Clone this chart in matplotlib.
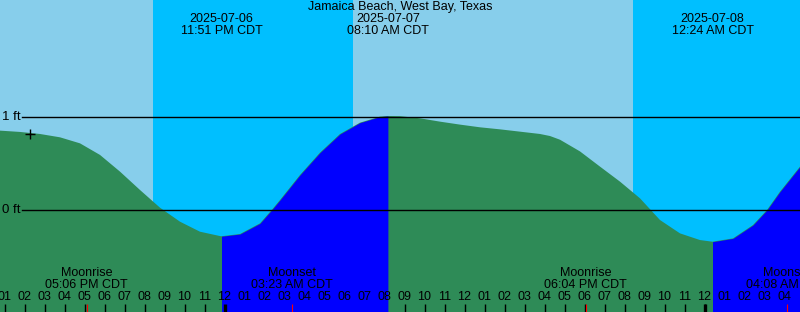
import numpy as np
import matplotlib
matplotlib.use("Agg")
from matplotlib import pyplot as plt

plt.rcParams['font.family'] = ['Liberation Sans', 'DejaVu Sans']

# hours relative to 2025-07-07 00:00 CDT, tide height in ft
tide_hours = [-11.225, -10.225, -9.225, -8.225, -7.225, -6.225, -5.225, -4.225, -3.225,
              -2.225, -1.225, -0.225, -0.15, 0.775, 1.775, 2.36, 2.775, 3.775, 4.775,
              5.775, 6.775, 7.775, 8.17, 8.775, 9.775, 10.775, 11.775, 12.775, 13.775,
              14.775, 15.775, 16.275, 16.775, 17.775, 18.775, 19.775, 20.775, 21.775, 22.775,
              23.775, 24.4, 25.425, 26.425, 27.125, 27.775, 28.775]
tide_feet = [0.856, 0.842, 0.82, 0.784, 0.719, 0.594, 0.414, 0.216, 0.025,
             -0.126, -0.234, -0.281, -0.283, -0.259, -0.144, 0.0, 0.108, 0.378, 0.619,
             0.82, 0.942, 1.007, 1.014, 1.012, 0.989, 0.953, 0.921, 0.892, 0.87,
             0.845, 0.82, 0.798, 0.758, 0.632, 0.468, 0.306, 0.126, -0.108, -0.252,
             -0.324, -0.342, -0.306, -0.162, 0.0, 0.198, 0.468]

# tide extremes
event_hours = [-0.15, 8.17, 24.4]
event_dates = ["2025-07-06", "2025-07-07", "2025-07-08"]
event_times = ["11:51 PM CDT", "08:10 AM CDT", "12:24 AM CDT"]
rising = [(-0.15, 8.17), (24.4, 28.775)]

# sun: nights (sunset, sunrise)
nights = [(-3.6, 6.4), (20.4, 28.775)]

# moon events
moon_hours = [-6.9, 3.383, 18.067, 28.133]
moon_names = ["Moonrise", "Moonset", "Moonrise", "Moonset"]
moon_times = ["05:06 PM CDT", "03:23 AM CDT", "06:04 PM CDT", "04:08 AM CDT"]

now_hour = -9.72
hours = list(range(-11, 29))
hour_labels = ["%02d" % ((h % 12) or 12) for h in hours]
midnights = [0, 24]

t = np.array(tide_hours)
h = np.array(tide_feet)
x0, x1 = -11.225, 28.775
y0, y1 = -1.1, 2.265
H = 312.0

fig = plt.figure(figsize=(8, 3.12), dpi=100)
ax = fig.add_axes([0, 0, 1, 1])
ax.set_xlim(x0, x1)
ax.set_ylim(y0, y1)
ax.set_facecolor('#87CEEB')
for s in ax.spines.values():
    s.set_visible(False)

for a, b in nights:
    ax.axvspan(a, b, color='#00BFFF', lw=0, zorder=0)

ax.fill_between(t, h, y0, color='#2E8B57', lw=0, zorder=1)
for a, b in rising:
    m = (t >= a) & (t <= b)
    ax.fill_between(t, h, y0, where=m, color='#0000FF', lw=0, zorder=2)

# datum lines
xf = ax.get_yaxis_transform()
for lvl, lab in [(1, "1 ft"), (0, "0 ft")]:
    ax.plot([22 / 800, 1], [lvl, lvl], color='black', lw=1, transform=xf, zorder=3)
    ax.text(2 / 800, lvl, lab, transform=xf, ha='left', va='center', fontsize=9.5)

ax.plot([now_hour], [np.interp(now_hour, t, h) - 0.016], marker='+', color='black',
        ms=6.5, mew=1, zorder=4)

tr = ax.get_xaxis_transform()
fig.text(0.5, 1 - 7 / H, "Jamaica Beach, West Bay, Texas", ha='center', va='center', fontsize=9)
for eh, d, tm in zip(event_hours, event_dates, event_times):
    ax.text(eh, 1 - 19 / H, d, transform=tr, ha='center', va='center', fontsize=9)
    ax.text(eh, 1 - 31 / H, tm, transform=tr, ha='center', va='center', fontsize=9)

for mh, n, tm in zip(moon_hours, moon_names, moon_times):
    ax.text(mh, 1 - 273 / H, n, transform=tr, ha='center', va='center', fontsize=9)
    ax.text(mh, 1 - 285 / H, tm, transform=tr, ha='center', va='center', fontsize=9)

# hour ticks
tick_h = 8 / H
ax.set_xticks(hours)
ax.set_xticklabels([])
ax.set_yticks([])
ax.tick_params(axis='x', direction='in', length=5.8, width=1.0, color='black')
for hh, lab in zip(hours, hour_labels):
    ax.text(hh, 1 - 297 / H, lab, transform=tr, ha='center', va='center', fontsize=9)
ax.vlines(midnights, 0, tick_h, transform=tr, color='black', lw=2.4, zorder=5)
ax.vlines(moon_hours, 0, tick_h, transform=tr, color='red', lw=0.8, zorder=5)

fig.savefig("out.png", dpi=100)
